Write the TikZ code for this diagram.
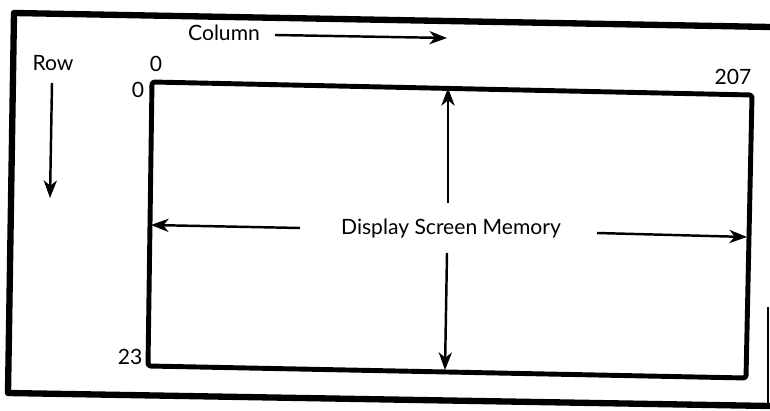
\documentclass[tikz,border=0pt]{standalone}
\usepackage{fontspec}
\setmainfont{Lato}
\usetikzlibrary{arrows.meta}
\begin{document}
\begin{tikzpicture}[x=0.02cm,y=-0.02cm,
  lbl/.style={font=\fontsize{12}{14}\selectfont, inner sep=0pt},
  arr/.style={line width=1.4pt, -{Stealth[length=10pt,width=7.5pt,inset=3pt]}},
  outerframe/.style={line width=3.6pt, line join=round},
  innerframe/.style={line width=2.8pt, line join=round, rounded corners=1.5pt}]
\useasboundingbox (0,0) rectangle (770,411);
% outer frame
\draw[outerframe] (770,27) -- (14,13) -- (8,393) -- (770,406);
\draw[line width=0.8pt] (768,307) -- (768,407);
% inner rectangle (display memory)
\coordinate (tl) at (152,82);
\coordinate (tr) at (752,95);
\coordinate (br) at (746,378);
\coordinate (bl) at (148,366);
\draw[innerframe] (tl) -- (tr) -- (br) -- (bl) -- cycle;
% labels
\node[lbl] (col) at (224,33) {Column};
\node[lbl] (row) at (53,63) {Row};
\node[lbl] (c0) at (156,64) {0};
\node[lbl] (r0) at (138,90) {0};
\node[lbl] (c207) at (733,77) {207};
\node[lbl] (r23) at (130,357) {23};
\node[lbl] (dsm) at (451,229) {Display Screen Memory};
% arrow coordinates
\coordinate (colA) at (275,35);
\coordinate (colB) at (447,38);
\coordinate (rowA) at (52,83);
\coordinate (rowB) at (50,198);
\coordinate (upA) at (448,203);
\coordinate (upB) at (448,88);
\coordinate (dnA) at (447,253);
\coordinate (dnB) at (445,370);
\coordinate (lfA) at (300,228);
\coordinate (lfB) at (151,225);
\coordinate (rtA) at (597,233);
\coordinate (rtB) at (747,237);
\draw[arr] (colA) -- (colB);
\draw[arr] (rowA) -- (rowB);
\draw[arr] (upA) -- (upB);
\draw[arr] (dnA) -- (dnB);
\draw[arr] (lfA) -- (lfB);
\draw[arr] (rtA) -- (rtB);
\end{tikzpicture}
\end{document}
